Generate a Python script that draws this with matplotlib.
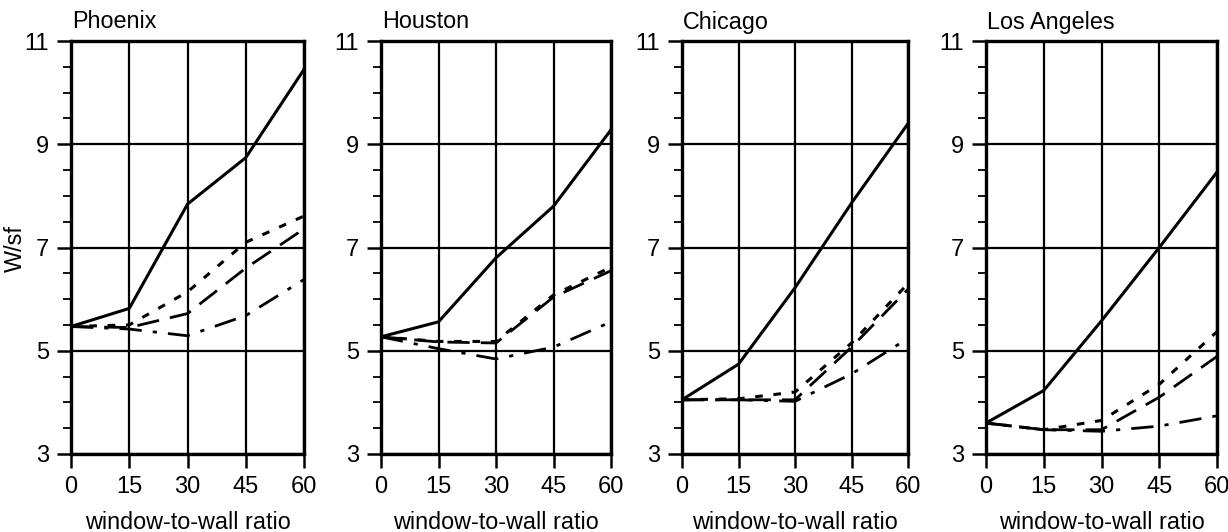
import matplotlib
matplotlib.use("Agg")
import matplotlib.pyplot as plt
from matplotlib.ticker import MultipleLocator

plt.rcParams['font.family'] = ['Liberation Sans', 'DejaVu Sans']

cities = ["Phoenix", "Houston", "Chicago", "Los Angeles"]
wwr = [0, 15, 30, 45, 60]

# series per city: solid, dotted, dashed, dash-dot
solid = {
    "Phoenix":     [5.47, 5.82, 7.84, 8.74, 10.45],
    "Houston":     [5.27, 5.56, 6.80, 7.80, 9.28],
    "Chicago":     [4.05, 4.74, 6.22, 7.86, 9.40],
    "Los Angeles": [3.60, 4.23, 5.58, 7.00, 8.46],
}
dotted = {
    "Phoenix":     [5.47, 5.50, 6.14, 7.10, 7.61],
    "Houston":     [5.27, 5.18, 5.18, 6.08, 6.62],
    "Chicago":     [4.05, 4.07, 4.20, 5.15, 6.30],
    "Los Angeles": [3.60, 3.47, 3.65, 4.35, 5.37],
}
dashed = {
    "Phoenix":     [5.47, 5.45, 5.72, 6.60, 7.36],
    "Houston":     [5.27, 5.17, 5.15, 6.04, 6.55],
    "Chicago":     [4.05, 4.05, 4.05, 5.07, 6.19],
    "Los Angeles": [3.60, 3.47, 3.47, 4.10, 4.89],
}
dashdot = {
    "Phoenix":     [5.47, 5.42, 5.29, 5.68, 6.38],
    "Houston":     [5.27, 5.04, 4.84, 5.07, 5.56],
    "Chicago":     [4.05, 4.05, 4.02, 4.55, 5.24],
    "Los Angeles": [3.60, 3.47, 3.44, 3.54, 3.74],
}

x_ticks = [0, 15, 30, 45, 60]
y_ticks = [3, 5, 7, 9, 11]

W, H = 1228, 532
fig = plt.figure(figsize=(W / 100, H / 100), dpi=100)

lefts = [71, 381, 682, 986]
rights = [304, 611, 908, 1217]
top_px, bot_px = 41, 454

FS = 16.8
TFS = 17
for i, city in enumerate(cities):
    l, r = lefts[i], rights[i]
    ax = fig.add_axes([l / W, (H - bot_px) / H, (r - l) / W, (bot_px - top_px) / H])
    ax.set_xlim(0, 60)
    ax.set_ylim(3, 11)
    ax.set_xticks(x_ticks)
    ax.set_yticks(y_ticks)
    ax.yaxis.set_minor_locator(MultipleLocator(0.5))
    ax.tick_params(axis='x', which='major', direction='out', length=10,
                   width=1.8, labelsize=TFS, pad=6)
    ax.tick_params(axis='y', which='major', direction='out', length=10,
                   width=1.8, labelsize=TFS, pad=6)
    ax.tick_params(axis='y', which='minor', direction='out', length=5.5, width=1.3)
    for s in ax.spines.values():
        s.set_linewidth(2.4)
    ax.grid(True, which='major', color='black', linewidth=1.6)
    ax.set_axisbelow(True)

    ax.plot(wwr, solid[city], color='black', lw=2.2, linestyle='-')
    ax.plot(wwr, dotted[city], color='black', lw=2.2, linestyle=(0, (2.5, 3.5)))
    ax.plot(wwr, dashed[city], color='black', lw=2.0, linestyle=(0, (8, 4)))
    ax.plot(wwr, dashdot[city], color='black', lw=2.0, linestyle=(0, (8, 4, 1.5, 4)))

    ax.set_xlabel("window-to-wall ratio", fontsize=FS, labelpad=9)
    fig.text((l + 1) / W, 1 - 22 / H, city, fontsize=FS, ha='left', va='center')

fig.text(15 / W, 1 - 248 / H, "W/sf", fontsize=FS, rotation=90, ha='center', va='center')

fig.savefig("out.png", dpi=100)
